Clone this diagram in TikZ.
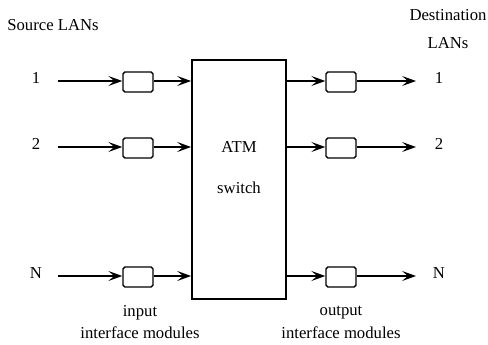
\documentclass[tikz,border=0pt]{standalone}
\usepackage{fontspec}
\setmainfont{Liberation Serif}
\usetikzlibrary{arrows.meta,positioning}
\tikzset{
  modbox/.style={draw,line width=0.8pt,rounded corners=1pt,minimum width=0.6cm,minimum height=0.4cm,inner sep=0pt},
  lanarrow/.style={line width=0.8pt,-{Stealth[length=2.8mm,width=2mm,inset=1.2mm]}},
}
\begin{document}
\begin{tikzpicture}[x=0.02cm,y=-0.02cm,font=\fontsize{9.5}{11}\selectfont]
\useasboundingbox (0,0) rectangle (488,345);
\node[draw,line width=1pt,minimum width=1.88cm,minimum height=4.78cm] (switch) at (239,179.5) {};
\node (atm) at (239,147) {ATM};
\node (swlbl) at (239,188) {switch};
\node (srclans) at (53,25) {Source LANs};
\node (dest) at (448,15) {Destination};
\node (destlans) at (448,43) {LANs};
\foreach \y/\lbl/\n in {81/1/a,147/2/b,276/N/c}{
  \node (src\n) at (36,\y-3) {\lbl};
  \node[modbox] (in\n) at (138,\y+1) {};
  \node[modbox] (out\n) at (341,\y+1) {};
  \node (dst\n) at (439,\y-3) {\lbl};
  \coordinate (swin\n) at (switch.west |- 0,\y);
  \coordinate (swout\n) at (switch.east |- 0,\y);
  \coordinate (srcend\n) at (58,\y);
  \coordinate (dstend\n) at (416,\y);
  \draw[lanarrow] (srcend\n) -- (in\n.west |- srcend\n);
  \draw[lanarrow] (in\n.east |- swin\n) -- (swin\n);
  \draw[lanarrow] (swout\n) -- (out\n.west |- swout\n);
  \draw[lanarrow] (out\n.east |- dstend\n) -- (dstend\n);
}
\node (inlbl) at (140,313) {input};
\node (inmods) at (140,333) {interface modules};
\node (outlbl) at (341,313) {output};
\node (outmods) at (341,333) {interface modules};
\end{tikzpicture}
\end{document}
